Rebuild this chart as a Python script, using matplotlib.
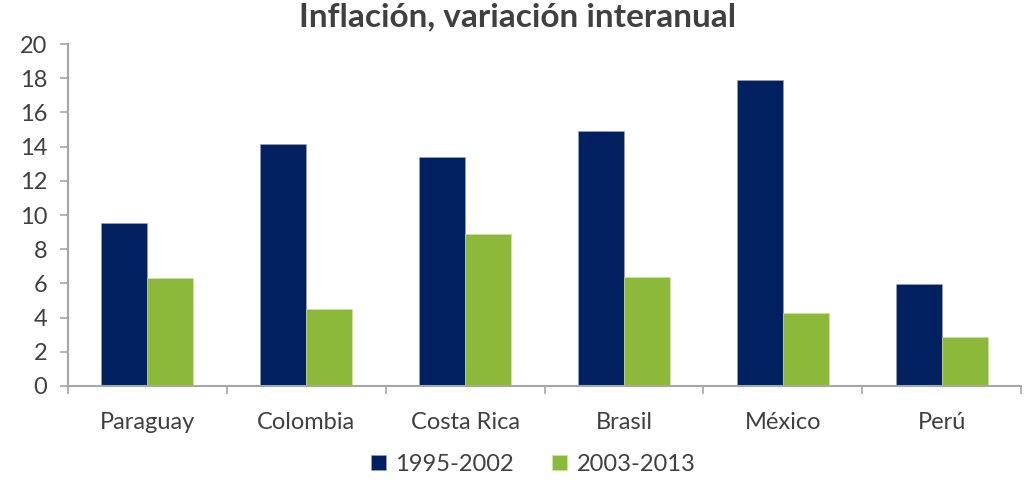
import matplotlib
matplotlib.use("Agg")
import matplotlib.pyplot as plt
import numpy as np

categories = ["Paraguay", "Colombia", "Costa Rica", "Brasil", "México", "Perú"]
series_names = ["1995-2002", "2003-2013"]
vals_1995_2002 = [9.55, 14.15, 13.4, 14.9, 17.9, 5.97]
vals_2003_2013 = [6.32, 4.52, 8.9, 6.38, 4.27, 2.87]
y_ticks = [0, 2, 4, 6, 8, 10, 12, 14, 16, 18, 20]

plt.rcParams['font.family'] = ['Lato', 'DejaVu Sans']
text_color = "#404040"
axis_color = "#A6A6A6"
blue = "#002060"
green = "#8DB93A"

fig = plt.figure(figsize=(10.25, 4.84), dpi=100)
ax = fig.add_axes([0.0663, 0.2025, 0.93, 0.7065])

x = np.arange(len(categories))
w = 0.29
ax.bar(x - w/2, vals_1995_2002, width=w, color=blue, label=series_names[0], edgecolor="#9aa6c0", linewidth=0.4)
ax.bar(x + w/2, vals_2003_2013, width=w, color=green, label=series_names[1], edgecolor="#d0e3a8", linewidth=0.4)

ax.set_xlim(-0.5, len(categories) - 0.5)
ax.set_ylim(0, 20)
ax.set_yticks(y_ticks)
ax.set_yticklabels([str(t) for t in y_ticks], fontsize=17, color=text_color)

ax.set_xticks(x)
ax.set_xticklabels(categories, fontsize=17, color=text_color)
ax.tick_params(axis='x', which='major', length=0, pad=19)
ax.set_xticks(np.arange(-0.5, len(categories), 1.0), minor=True)
ax.tick_params(axis='x', which='minor', length=6, width=1.2, color=axis_color)
ax.tick_params(axis='y', length=6, width=1.2, color=axis_color, pad=9)

for s in ["top", "right"]:
    ax.spines[s].set_visible(False)
for s in ["left", "bottom"]:
    ax.spines[s].set_color(axis_color)
    ax.spines[s].set_linewidth(1.5)

fig.suptitle("Inflación, variación interanual", fontsize=24, color=text_color,
             y=0.995, x=0.505, fontweight='bold')

fig.legend(loc="lower center", bbox_to_anchor=(0.52, -0.025), ncol=2, frameon=False,
           fontsize=17, handlelength=0.65, handleheight=0.65, handletextpad=0.4,
           columnspacing=1.6, labelcolor=text_color)

fig.savefig("out.png", dpi=100)
